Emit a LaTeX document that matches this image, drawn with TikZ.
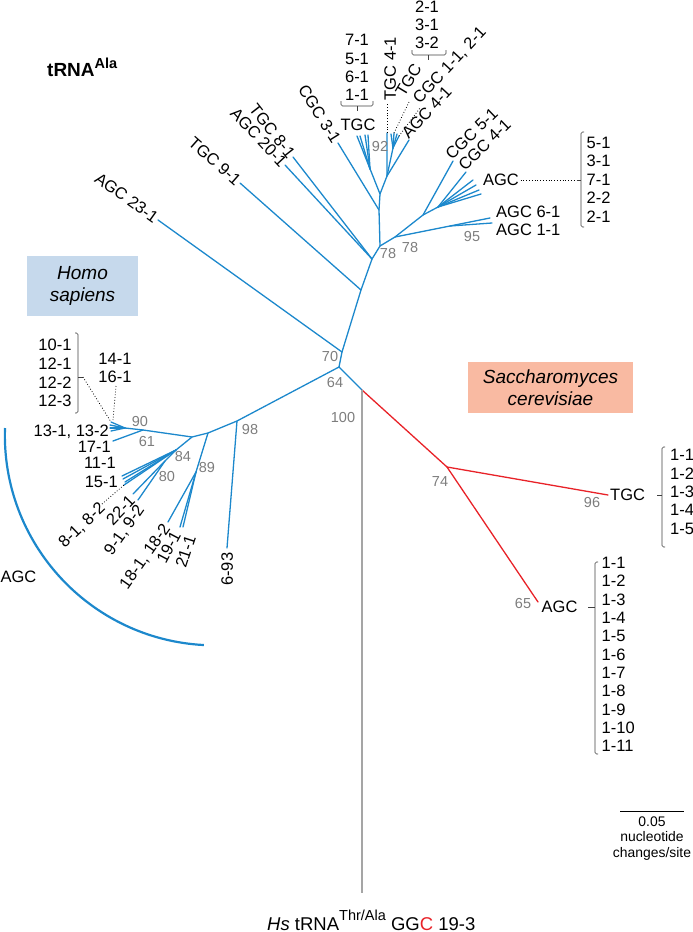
\documentclass[tikz,border=0pt]{standalone}
\usepackage{fontspec}
\setmainfont{Liberation Sans}
\definecolor{tblue}{RGB}{28,136,204}
\definecolor{tred}{RGB}{232,34,40}
\definecolor{tgray}{RGB}{165,165,165}
\definecolor{bsgray}{RGB}{125,125,125}
\definecolor{hsfill}{RGB}{198,217,236}
\definecolor{scfill}{RGB}{249,186,162}
\begin{document}
\begin{tikzpicture}[x=1pt,y=-1pt,
  br/.style={draw=tblue,line width=1.3pt,line cap=round,line join=round},
  rbr/.style={draw=tred,line width=1.3pt,line cap=round,line join=round},
  gbr/.style={draw=tgray,line width=1.6pt},
  lbl/.style={font=\fontsize{16.5}{18.3}\selectfont,inner sep=1.5pt,text height=11.8pt,text depth=0pt},
  bs/.style={font=\fontsize{14.5}{15}\selectfont,text=bsgray,inner sep=0pt},
  dotl/.style={draw=black,dotted,line width=0.8pt},
  brk/.style={draw=black!75,line width=0.6pt,rounded corners=1.5pt},
  species/.style={font=\fontsize{19}{22}\selectfont\itshape,align=center,inner sep=0pt},
  scaletxt/.style={font=\fontsize{13.9}{15.5}\selectfont,align=center,inner sep=0pt},
]
\useasboundingbox (0,0) rectangle (693,932);

% ---------- species boxes ----------
\node[species,fill=hsfill,minimum width=111pt,minimum height=60pt] (hs) at (82.5,286) {Homo\\sapiens};
\node[species,fill=scfill,minimum width=165pt,minimum height=51pt] (sc) at (550.5,387.5) {Saccharomyces\\cerevisiae};

% ---------- title ----------
\node[anchor=base west,inner sep=0pt,font=\fontsize{19}{20}\selectfont\bfseries] (title) at (47,76)
  {tRNA\raisebox{8pt}{\fontsize{14.5}{15}\selectfont Ala}};

% ---------- internal nodes ----------
\coordinate (A) at (342,352);
\coordinate (B) at (339,367);
\coordinate (C) at (362,390);
\coordinate (D1) at (361,290);
\coordinate (D2) at (372,259);
\coordinate (E) at (380,246);
\coordinate (F) at (395,237);
\coordinate (G) at (379,210);
\coordinate (H) at (380,194);
\coordinate (J) at (370,169);
\coordinate (I) at (387,176);
\coordinate (K) at (393,148);
\coordinate (V) at (450,226);
\coordinate (L) at (423,215);
\coordinate (N) at (438,207);
\coordinate (Q) at (237,421);
\coordinate (P) at (208,433);
\coordinate (R) at (192,437);
\coordinate (W) at (196,472);
\coordinate (X) at (176,450);
\coordinate (U) at (165,461);
\coordinate (Y) at (143,430);
\coordinate (Z) at (125,428);
\coordinate (S) at (447,467);

% ---------- leaves ----------
\coordinate (l23) at (158,220);
\coordinate (l91) at (240,183);
\coordinate (l201) at (285,165);
\coordinate (l81) at (293,157);
\coordinate (l31) at (338,143);
\coordinate (t1) at (357,136);
\coordinate (t2) at (360,136);
\coordinate (t3) at (365,135);
\coordinate (t4) at (368,135);
\coordinate (l41) at (387,133);
\coordinate (w1) at (391,134);
\coordinate (w2) at (394,133);
\coordinate (w3) at (397,134);
\coordinate (w4) at (399,136);
\coordinate (la41) at (409,140);
\coordinate (lc51) at (453,161);
\coordinate (lc41) at (466,172);
\coordinate (a1) at (473,180);
\coordinate (a2) at (476,185);
\coordinate (a3) at (479,190);
\coordinate (a4) at (481,194);
\coordinate (l61) at (490,218);
\coordinate (l11) at (492,223);
\coordinate (l693) at (227,548);
\coordinate (l182) at (168,522);
\coordinate (l191) at (180,527);
\coordinate (l211) at (183,527);
\coordinate (l221) at (133,494);
\coordinate (l92) at (138,500);
\coordinate (f1) at (122,476);
\coordinate (f2) at (123,479);
\coordinate (f3) at (125,482);
\coordinate (f4) at (124,485);
\coordinate (l171) at (113,441);
\coordinate (h1) at (111,422);
\coordinate (h2) at (110,425);
\coordinate (h3) at (110,428);
\coordinate (h4) at (111,431);
\coordinate (sT) at (608,495);
\coordinate (sA) at (538,602);
\coordinate (gb) at (362,893);

% ---------- blue branches ----------
\draw[br] (C) -- (B) -- (A) -- (D1) -- (D2) -- (E) -- (G) -- (H) -- (t1);
\draw[br] (A) -- (l23);
\draw[br] (D1) -- (l91);
\draw[br] (D2) -- (l201);
\draw[br] (D2) -- (l81);
\draw[br] (G) -- (l31);
\draw[br] (J) -- (t2);
\draw[br] (J) -- (t3);
\draw[br] (J) -- (t4);
\draw[br] (H) -- (I) -- (l41);
\draw[br] (I) -- (K);
\foreach \w in {w1,w2,w3,w4} \draw[br] (K) -- (\w);
\draw[br] (I) -- (la41);
\draw[br] (E) -- (F) -- (V) -- (l61);
\draw[br] (V) -- (l11);
\draw[br] (F) -- (L) -- (lc51);
\draw[br] (L) -- (N) -- (lc41);
\foreach \w in {a1,a2,a3,a4} \draw[br] (N) -- (\w);
\draw[br] (B) -- (Q) -- (P) -- (R) -- (Y) -- (Z);
\draw[br] (Q) -- (l693);
\draw[br] (P) -- (W);
\foreach \w in {l182,l191,l211} \draw[br] (W) -- (\w);
\draw[br] (R) -- (X);
\foreach \w in {f1,f2,f3,f4} \draw[br] (X) -- (\w);
\draw[br] (X) -- (U) -- (l221);
\draw[br] (U) -- (l92);
\draw[br] (Y) -- (l171);
\foreach \w in {h1,h2,h3,h4} \draw[br] (Z) -- (\w);

% ---------- red and gray branches ----------
\draw[rbr] (C) -- (S) -- (sT);
\draw[rbr] (S) -- (sA);
\draw[gbr] (C) -- (gb);

% ---------- AGC arc ----------
\draw[draw=tblue,line width=2.2pt] (5,428) arc[start angle=182,end angle=93,radius=210];
\node[lbl] (arcAGC) at (18.5,577) {AGC};

% ---------- upper-left labels ----------
\node[lbl,rotate=-35.6,anchor=east] (n23) at (l23) {AGC 23-1};
\node[lbl,rotate=-41.5,anchor=east] (n91) at (l91) {TGC 9-1};
\node[lbl,rotate=-47,anchor=east] (n201) at (l201) {AGC 20-1};
\node[lbl,rotate=-52,anchor=east] (n81) at (l81) {TGC 8-1};
\node[lbl,rotate=-58,anchor=east] (n31) at (l31) {CGC 3-1};

% ---------- top cluster labels ----------
\node[lbl] (tTGC) at (358,125) {TGC};
\foreach \t [count=\i] in {7-1,5-1,6-1,1-1}
  \node[lbl] (tl\i) at (357,{40+(\i-1)*18.33}) {\t};
\draw[brk] (341,101) -- (341,106) -- (373,106) -- (373,101);
\draw[brk] (357,106) -- (357,111);

\node[lbl,rotate=90,anchor=west] (n41) at (390,102) {TGC 4-1};
\draw[dotl] (l41) -- (387,104);
\node[lbl,rotate=59,anchor=south west] (nTGC2) at (405,100) {TGC};
\draw[dotl] (w2) -- (409,102);
\foreach \t [count=\i] in {2-1,3-1,3-2}
  \node[lbl] (tr\i) at (427,{7+(\i-1)*18}) {\t};
\draw[brk] (412,50) -- (412,55) -- (446,55) -- (446,50);
\draw[brk] (428,55) -- (428,60);
\node[lbl,rotate=47,anchor=south west] (nc11) at (420,107) {CGC 1-1, 2-1};
\draw[dotl] (w4) -- (420,108);
\node[lbl,rotate=47,anchor=south west] (na41) at (409,142) {AGC 4-1};

% ---------- right cluster labels ----------
\node[lbl,rotate=44,anchor=south west] (nc51) at (452,163) {CGC 5-1};
\node[lbl,rotate=44,anchor=south west] (nc41) at (465,174) {CGC 4-1};
\node[lbl] (nAGCr) at (501,180) {AGC};
\draw[dotl] (nAGCr.east) -- (577,180);
\draw[brk] (584,132) -- (581,132) -- (581,227) -- (584,227);
\draw[brk] (577,180) -- (581,180);
\foreach \t [count=\i] in {5-1,3-1,7-1,2-2,2-1}
  \node[lbl,anchor=west,inner sep=0pt] (ra\i) at (586.5,{142.7+(\i-1)*18.35}) {\t};
\node[lbl,anchor=west,inner sep=0pt] (n61) at (496,211.7) {AGC 6-1};
\node[lbl,anchor=west,inner sep=0pt] (n11) at (496,230) {AGC 1-1};

% ---------- Homo sapiens lower cluster labels ----------
\node[lbl,anchor=east,inner sep=0pt] (n13) at (109,431) {13-1, 13-2};
\node[lbl,anchor=east,inner sep=0pt] (n17) at (111,447) {17-1};
\node[lbl,anchor=east,inner sep=0pt] (n111) at (116,463) {11-1};
\node[lbl,anchor=east,inner sep=0pt] (n151) at (118,482) {15-1};
\foreach \t [count=\i] in {10-1,12-1,12-2,12-3}
  \node[lbl] (hl\i) at (55,{345+(\i-1)*18.6}) {\t};
\draw[brk] (75,333) -- (78,333) -- (78,413) -- (75,413);
\draw[brk] (78,377) -- (83,377);
\draw[dotl] (83,377) -- (h1);
\node[lbl] (n141) at (115,358.3) {14-1};
\node[lbl] (n161) at (115,376.7) {16-1};
\draw[dotl] (116,386) -- (113,420);
\node[lbl,rotate=44,anchor=east] (n8) at (103,504) {8-1, 8-2};
\draw[dotl] (102,504) -- (f4);
\node[lbl,rotate=46,anchor=east] (n221) at (133,497) {22-1};
\node[lbl,rotate=55,anchor=east] (n9) at (141,505) {9-1, 9-2};
\node[lbl,rotate=55,anchor=east] (n18) at (167,524) {18-1, 18-2};
\node[lbl,rotate=62,anchor=east] (n191) at (177,531) {19-1};
\node[lbl,rotate=72,anchor=east] (n211) at (191,534) {21-1};
\node[lbl,rotate=90,anchor=east] (n693) at (227,551) {6-93};

% ---------- Saccharomyces labels ----------
\node[lbl,anchor=west,inner sep=0pt] (sTGC) at (610,495) {TGC};
\draw[brk] (657,495) -- (662,495);
\draw[brk] (665,447) -- (662,447) -- (662,547) -- (665,547);
\foreach \t [count=\i] in {1-1,1-2,1-3,1-4,1-5}
  \node[lbl,anchor=west,inner sep=0pt] (st\i) at (670,{455+(\i-1)*18.33}) {\t};
\node[lbl,anchor=west,inner sep=0pt] (sAGC) at (541.5,607) {AGC};
\draw[brk] (588,607) -- (595,607);
\draw[brk] (598,562) -- (595,562) -- (595,754) -- (598,754);
\foreach \t [count=\i] in {1-1,1-2,1-3,1-4,1-5,1-6,1-7,1-8,1-9,1-10,1-11}
  \node[lbl,anchor=west,inner sep=0pt] (sa\i) at (601.5,{562.7+(\i-1)*18.33}) {\t};

% ---------- bootstrap values ----------
\node[bs] (b92) at (380,147) {92};
\node[bs] (b78a) at (388,254) {78};
\node[bs] (b78b) at (410,248) {78};
\node[bs] (b95) at (472,237) {95};
\node[bs] (b70) at (330,357) {70};
\node[bs] (b64) at (335,383) {64};
\node[bs] (b100) at (343,418) {100};
\node[bs] (b74) at (440,482) {74};
\node[bs] (b96) at (592,503) {96};
\node[bs] (b65) at (523,603) {65};
\node[bs] (b90) at (140,422) {90};
\node[bs] (b61) at (147,442) {61};
\node[bs] (b84) at (183,457) {84};
\node[bs] (b80) at (167,477) {80};
\node[bs] (b89) at (207,468) {89};
\node[bs] (b98) at (250,430) {98};

% ---------- scale bar ----------
\coordinate (sb1) at (620,811);
\coordinate (sb2) at (684,811);
\draw[black,line width=1pt] (sb1) -- (sb2);
\node[scaletxt,anchor=north] (sbt) at (652,816.5) {0.05\\nucleotide\\changes/site};

% ---------- outgroup label ----------
\node[anchor=base west,inner sep=0pt,font=\fontsize{18.5}{20}\selectfont] (og) at (267,930)
  {\textit{Hs} tRNA\raisebox{10pt}{\fontsize{14.5}{15}\selectfont Thr/Ala} GG\textcolor{tred}{C} 19-3};
\end{tikzpicture}
\end{document}
